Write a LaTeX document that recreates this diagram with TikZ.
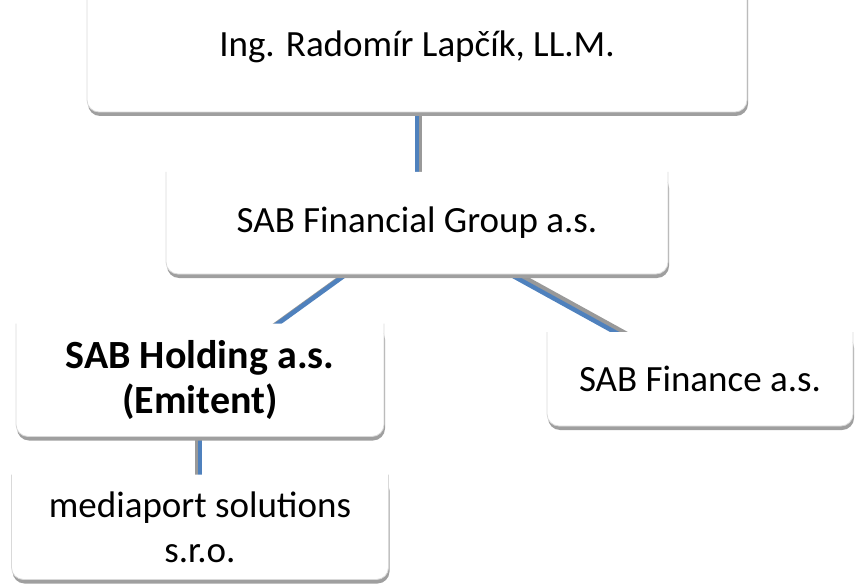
\documentclass[tikz,border=0pt]{standalone}
\usepackage{fontspec}
\setmainfont{Carlito}
\usetikzlibrary{shadows,backgrounds}
\definecolor{linkBlue}{RGB}{79,129,189}
\tikzstyle{orgNode}=[rectangle,fill=white,rounded corners=12pt,inner sep=0pt,outer sep=0pt,
    align=center,font=\fontsize{37}{45}\selectfont,
    drop shadow={shadow xshift=1pt,shadow yshift=-4pt,fill=gray!75,opacity=1},
    append after command={
        [rounded corners=12pt] (\tikzlastnode.north west) edge[draw=gray!30,line width=0.8pt,to path={-- (\tikzlastnode.south west) -- (\tikzlastnode.south east) -- (\tikzlastnode.north east)}] ()
    }]
\tikzstyle{link}=[line width=4.5pt, draw=linkBlue]
\tikzstyle{linkShade}=[line width=4.5pt, draw=gray!80]

\begin{document}
\begin{tikzpicture}[x=1pt,y=-1pt]

    \useasboundingbox (0,0) rectangle (856,585);

    \node[orgNode,minimum width=660pt,minimum height=130pt] (boss) at (417,47) {Ing. Radomír Lapčík, LL.M.};
    \node[orgNode,minimum width=502pt,minimum height=102pt] (group) at (417,223) {SAB Financial Group a.s.};
    \node[orgNode,minimum width=368pt,minimum height=113pt,font=\fontsize{40}{45}\selectfont\bfseries] (holding) at (200,380) {SAB Holding a.s.\\(Emitent)};
    \node[orgNode,minimum width=306pt,minimum height=94pt] (finance) at (700,379) {SAB Finance a.s.};
    \node[orgNode,minimum width=377pt,minimum height=105pt] (media) at (200,527) {mediaport solutions\\s.r.o.};

    \begin{pgfonlayer}{background}
    \draw[linkShade,transform canvas={xshift=3pt,yshift=3pt}] (boss.center) -- (group.center);
    \draw[linkShade,transform canvas={xshift=3pt,yshift=3pt}] (group.center) -- (holding.center);
    \draw[linkShade,transform canvas={xshift=3pt,yshift=3pt}] (group.center) -- (finance.center);
    \draw[linkShade,transform canvas={xshift=-3pt}] (holding.center) -- (media.center);

    \draw[link] (boss.center) -- (group.center);
    \draw[link] (group.center) -- (holding.center);
    \draw[link] (group.center) -- (finance.center);
    \draw[link] (holding.center) -- (media.center);
    \end{pgfonlayer}

\end{tikzpicture}
\end{document}
